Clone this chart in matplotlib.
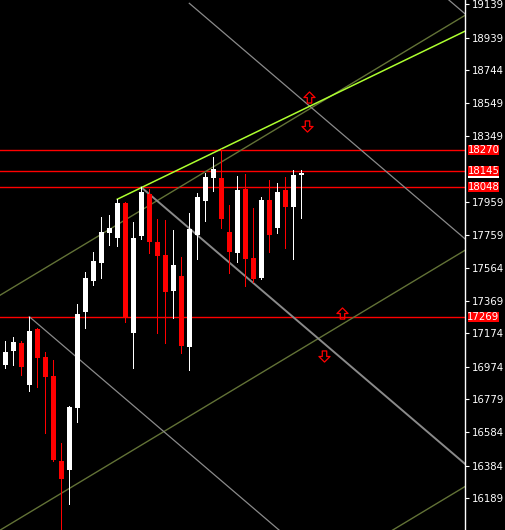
import matplotlib
matplotlib.use('Agg')
import matplotlib.pyplot as plt
import matplotlib.transforms as mtransforms
from matplotlib.path import Path
from matplotlib.patches import Rectangle
import numpy as np

# ---- data ----
opens  = [16985, 17068, 17118, 16865, 17201, 17034, 16919, 16412, 16358, 16730,
          17303, 17486, 17595, 17772, 17744, 17953, 17177, 17755, 18005, 17719,
          17641, 17428, 17516, 17094, 17761, 17965, 18102, 18101, 17780, 17655,
          18035, 17625, 17502, 17969, 17801, 18029, 17929, 18120]
highs  = [17130, 17154, 17130, 17273, 17206, 17064, 17015, 16521, 16740, 17347,
          17542, 17661, 17870, 17880, 17974, 17959, 17840, 18045, 18033, 17854,
          17850, 17790, 17627, 17894, 18009, 18129, 18228, 18274, 17940, 18113,
          18125, 17923, 17989, 18089, 18073, 18105, 18148, 18148]
lows   = [16969, 16985, 16925, 16831, 16855, 16581, 16410, 15950, 16155, 16646,
          17204, 17462, 17506, 17701, 17697, 17243, 16969, 17735, 17651, 17174,
          17118, 17267, 17055, 16955, 17619, 17846, 18025, 17804, 17536, 17601,
          17458, 17482, 17495, 17661, 17771, 17685, 17617, 17864]
closes = [17064, 17122, 16975, 17188, 17028, 16913, 16418, 16304, 16734, 17289,
          17502, 17605, 17777, 17801, 17953, 17263, 17741, 18019, 17721, 17635,
          17422, 17582, 17098, 17795, 17989, 18108, 18153, 17856, 17661, 18029,
          17617, 17498, 17969, 17761, 18019, 17929, 18119, 18132]

price_ticks = [19139, 18939, 18744, 18549, 18349, 17959, 17759, 17564,
               17369, 17174, 16974, 16779, 16584, 16384, 16189]
red_levels = [18270, 18145, 18048, 17269]
bid_price = 18132

# trend line anchors (bar index, price)
green_line = [(14, 17974), (27, 18274)]
gray_line = [(3, 17273), (36, 15927)]
gray_offsets = [0, 1343, 2686, 4029]
gray_starts = [3, 17, 23, 23]
olive_line = [(0, 17420), (50, 18857)]
olive_offsets = [0, -1402, -2812]

arrows_up = [(38.0, 18586), (42.05, 17297)]
arrows_down = [(37.76, 18413), (39.84, 17040)]

# ---- figure ----
fig = plt.figure(figsize=(5.05, 5.30), dpi=100, facecolor='black')
ax = fig.add_axes([0, 0, 465 / 505, 1])
ax.set_facecolor('black')
XMIN, XMAX = -0.6625, 57.46
ax.set_xlim(XMIN, XMAX)
ax.set_ylim(16000, 19163)

font = ['Liberation Sans Narrow', 'DejaVu Sans Condensed', 'DejaVu Sans']

x = np.arange(len(opens))
o = np.array(opens); c = np.array(closes); h = np.array(highs); l = np.array(lows)
up = c >= o
cols = np.where(up, '#FFFFFF', '#FF0000')

# horizontal levels
for p in red_levels:
    ax.axhline(p, color='#FF0000', lw=1.0, zorder=2)

# olive channel
(x1, y1), (x2, y2) = olive_line
s = (y2 - y1) / (x2 - x1)
for off in olive_offsets:
    xs = np.array([XMIN, XMAX])
    ax.plot(xs, y1 + off + s * (xs - x1), color='#627236', lw=1.0, zorder=2)

# gray channel lines
(x1, y1), (x2, y2) = gray_line
s = (y2 - y1) / (x2 - x1)
for off, st in zip(gray_offsets, gray_starts):
    xs = np.array([st, XMAX])
    lw = 1.4 if off == gray_offsets[1] else 0.9
    ax.plot(xs, y1 + off + s * (xs - x1), color='#8a8a8a', lw=lw, zorder=2)

# green trend line
(x1, y1), (x2, y2) = green_line
s = (y2 - y1) / (x2 - x1)
xs = np.array([x1, XMAX])
ax.plot(xs, y1 + s * (xs - x1), color='#ADFF2F', lw=1.1, zorder=2)

# candles
ax.vlines(x, l, h, colors=cols, lw=0.72, zorder=3, antialiased=False)
ax.bar(x, np.maximum(np.abs(c - o), 8), bottom=np.minimum(o, c), width=0.64,
       color=cols, edgecolor='none', zorder=4, antialiased=False)

# arrows
up_path = Path([(0, 0.5), (0.5, 0.0), (0.2, 0.0), (0.2, -0.5), (-0.2, -0.5),
                (-0.2, 0.0), (-0.5, 0.0), (0, 0.5)], closed=True)
down_path = Path([(0, -0.5), (0.5, 0.0), (0.2, 0.0), (0.2, 0.5), (-0.2, 0.5),
                  (-0.2, 0.0), (-0.5, 0.0), (0, -0.5)], closed=True)
for (ax_, ay) in arrows_up:
    ax.plot([ax_], [ay], marker=up_path, markersize=8, markerfacecolor='none',
            markeredgecolor='#FF0000', markeredgewidth=0.9, zorder=5)
for (ax_, ay) in arrows_down:
    ax.plot([ax_], [ay], marker=down_path, markersize=8, markerfacecolor='none',
            markeredgecolor='#FF0000', markeredgewidth=0.9, zorder=5)

# axis styling
for sp in ['top', 'left', 'bottom']:
    ax.spines[sp].set_visible(False)
ax.spines['right'].set_color('white')
ax.spines['right'].set_linewidth(1.0)
ax.set_xticks([])
ax.yaxis.tick_right()
ax.set_yticks(price_ticks)
ax.set_yticklabels([str(t) for t in price_ticks], family=font, fontsize=7.3, color='white')
ax.tick_params(axis='y', colors='white', length=3, width=0.8, pad=2)

# price labels at right
tr = mtransforms.blended_transform_factory(ax.transAxes, ax.transData)
px = 3165 / 530  # price per pixel
bw = 31 / 465
bx = 1 + 3 / 465

def price_box(p, fc, z):
    ax.add_patch(Rectangle((bx, p - 5 * px), bw, 10 * px, transform=tr,
                           facecolor=fc, edgecolor='none', clip_on=False, zorder=z))

def price_label(p, fc, tc, z):
    price_box(p, fc, z)
    ax.text(bx + bw / 2, p, str(p), transform=tr, ha='center', va='center',
            color=tc, family=font, fontsize=7.3, clip_on=False, zorder=z + 0.5)

# bid label is almost fully hidden behind the 18145 label: only its box edge shows
price_box(bid_price, 'white', 6)
for p in red_levels:
    price_label(p, '#FF0000', 'white', 8)

fig.savefig('out.png', dpi=100, facecolor='black')
